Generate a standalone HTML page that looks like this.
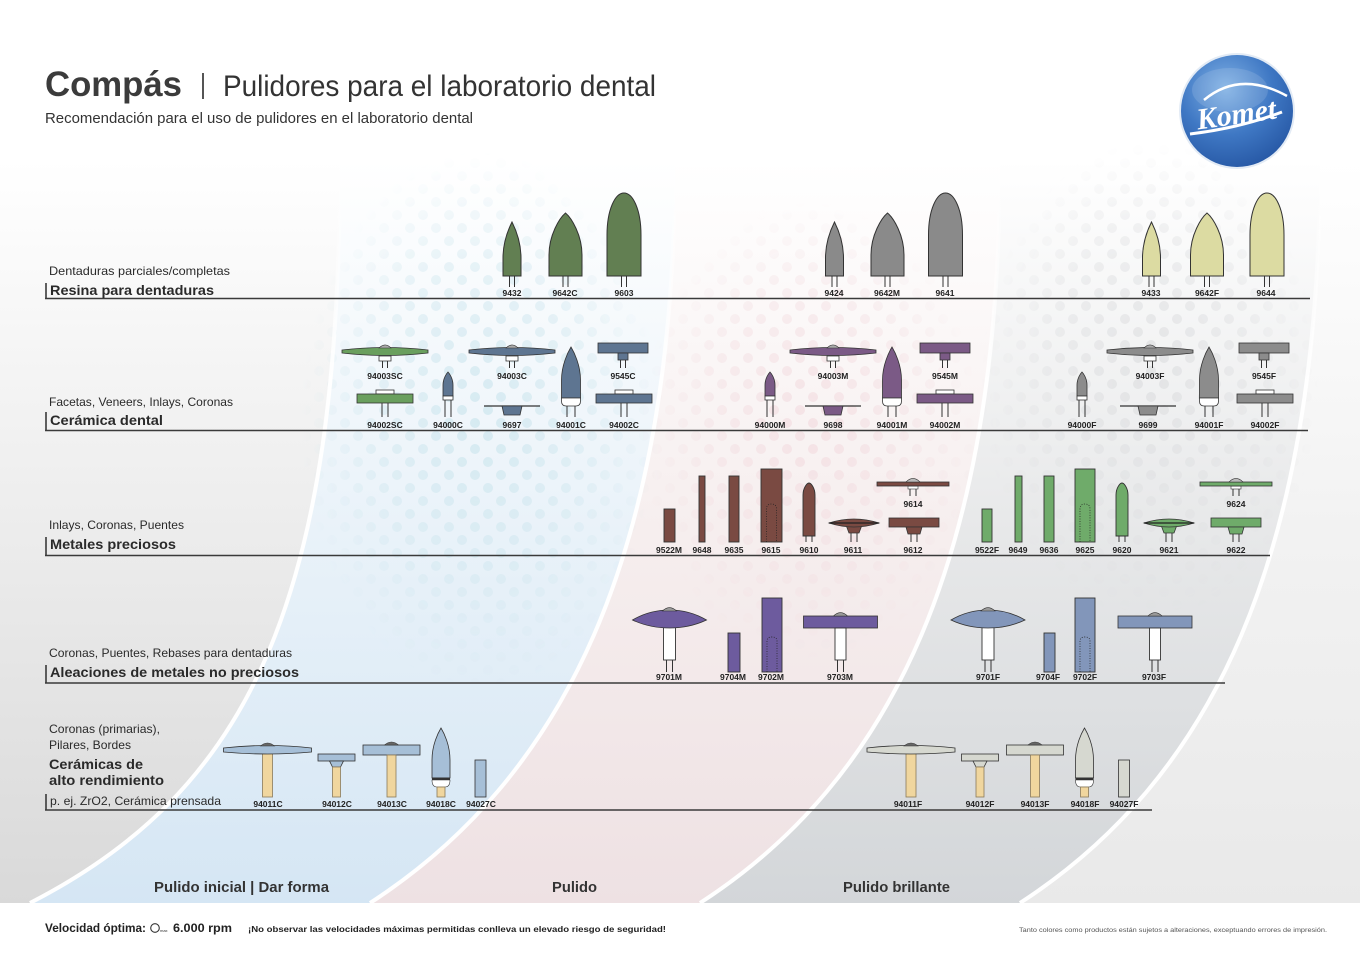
<!DOCTYPE html>
<html><head><meta charset="utf-8">
<style>
html,body{margin:0;padding:0;background:#fff;}
svg{display:block}
.lb{font-family:"Liberation Sans",sans-serif;font-weight:bold;font-size:8.5px;fill:#222;text-anchor:middle}
.t1{font-family:"Liberation Sans",sans-serif;font-size:12px;fill:#2a2a2a}
.t2{font-family:"Liberation Sans",sans-serif;font-weight:bold;font-size:14px;fill:#2a2a2a}
.bt{font-family:"Liberation Sans",sans-serif;font-weight:bold;font-size:14.5px;fill:#333}
</style></head>
<body>
<svg width="1360" height="962" viewBox="0 0 1360 962" xmlns="http://www.w3.org/2000/svg">
<defs>
  <linearGradient id="gL" gradientUnits="userSpaceOnUse" x1="0" y1="160" x2="0" y2="905">
    <stop offset="0" stop-color="#ffffff"/><stop offset="0.45" stop-color="#eeeeee"/><stop offset="1" stop-color="#d9d9d9"/>
  </linearGradient>
  <linearGradient id="gB" gradientUnits="userSpaceOnUse" x1="0" y1="160" x2="0" y2="905">
    <stop offset="0" stop-color="#ffffff"/><stop offset="0.5" stop-color="#e9f2f9"/><stop offset="1" stop-color="#d5e6f4"/>
  </linearGradient>
  <linearGradient id="gP" gradientUnits="userSpaceOnUse" x1="0" y1="160" x2="0" y2="905">
    <stop offset="0" stop-color="#ffffff"/><stop offset="0.5" stop-color="#f6eeee"/><stop offset="1" stop-color="#eee1e3"/>
  </linearGradient>
  <linearGradient id="gG" gradientUnits="userSpaceOnUse" x1="0" y1="160" x2="0" y2="905">
    <stop offset="0" stop-color="#ffffff"/><stop offset="0.5" stop-color="#e7e8e9"/><stop offset="1" stop-color="#d3d6d9"/>
  </linearGradient>
  <linearGradient id="gR" gradientUnits="userSpaceOnUse" x1="0" y1="160" x2="0" y2="905">
    <stop offset="0" stop-color="#ffffff"/><stop offset="0.5" stop-color="#f2f2f2"/><stop offset="1" stop-color="#e9e9e9"/>
  </linearGradient>
  <linearGradient id="sepF" gradientUnits="userSpaceOnUse" x1="0" y1="160" x2="0" y2="905">
    <stop offset="0" stop-color="#fff" stop-opacity="0"/><stop offset="0.3" stop-color="#fff" stop-opacity="1"/><stop offset="1" stop-color="#fff" stop-opacity="1"/>
  </linearGradient>
  <radialGradient id="fade"><stop offset="0" stop-color="#fff" stop-opacity="0.75"/><stop offset="0.6" stop-color="#fff" stop-opacity="0.4"/><stop offset="1" stop-color="#fff" stop-opacity="0"/></radialGradient>
  <pattern id="dB" width="26" height="26" patternUnits="userSpaceOnUse"><circle cx="7" cy="7" r="5" fill="#cde6ee"/><circle cx="20" cy="20" r="5" fill="#cde6ee"/></pattern>
  <pattern id="dP" width="26" height="26" patternUnits="userSpaceOnUse"><circle cx="7" cy="7" r="5" fill="#f3dde1"/><circle cx="20" cy="20" r="5" fill="#f3dde1"/></pattern>
  <pattern id="dG" width="26" height="26" patternUnits="userSpaceOnUse"><circle cx="7" cy="7" r="5" fill="#dedfe1"/><circle cx="20" cy="20" r="5" fill="#dedfe1"/></pattern>
  <mask id="mB"><ellipse cx="480" cy="420" rx="180" ry="270" fill="url(#fade)"/></mask>
  <mask id="mP"><ellipse cx="810" cy="430" rx="170" ry="230" fill="url(#fade)"/></mask>
  <mask id="mG"><ellipse cx="1150" cy="380" rx="170" ry="240" fill="url(#fade)"/></mask>
  <radialGradient id="logoG" cx="0.4" cy="0.3" r="0.75">
    <stop offset="0" stop-color="#7fb0e4"/><stop offset="0.55" stop-color="#3f78c4"/><stop offset="1" stop-color="#2657a4"/>
  </radialGradient>

  <g id="p1"><path d="M-9,276 L-9,258 C-9,240 -2,226 0,222 C2,226 9,240 9,258 L9,276 Z" stroke="#333" stroke-width="1"/><path d="M-2.5,276V287M2.5,276V287" stroke="#333" fill="none"/></g>
  <g id="p2"><path d="M-16.5,276 L-16.5,255 C-16.5,235 -6,218 0,213 C6,218 16.5,235 16.5,255 L16.5,276 Z" stroke="#333" stroke-width="1"/><path d="M-2.5,276V287M2.5,276V287" stroke="#333" fill="none"/></g>
  <g id="p3"><path d="M-17,276 L-17,235 C-17,210 -9,193 0,193 C9,193 17,210 17,235 L17,276 Z" stroke="#333" stroke-width="1"/><path d="M-2.5,276V287M2.5,276V287" stroke="#333" fill="none"/></g>

  <g id="d2"><path d="M-6,356 h12 v5 h-12 Z" fill="#fff" stroke="#333" stroke-width=".8"/><path d="M-43,350 Q0,345 43,350 L43,353 Q0,358 -43,353 Z" stroke="#333" stroke-width=".8"/><path d="M-6,348 Q0,342 6,348 Z" fill="#aaa" stroke="#333" stroke-width=".6"/><path d="M-2.5,361V368M2.5,361V368" stroke="#333" fill="none"/></g>
  <g id="s2"><rect x="-25" y="343" width="50" height="10" stroke="#333" stroke-width=".8"/><rect x="-5" y="353" width="10" height="7" stroke="#333" stroke-width=".8"/><path d="M-2.5,360V368M2.5,360V368" stroke="#333" fill="none"/></g>
  <g id="w2"><rect x="-9" y="390" width="18" height="4" fill="#fff" stroke="#333" stroke-width=".8"/><rect x="-28" y="394" width="56" height="9" stroke="#333" stroke-width=".8"/><path d="M-3,403V417M3,403V417" stroke="#333" fill="none"/></g>
  <g id="sf2"><path d="M-5,396 L-5,385 C-5,378 -1,373 0,372 C1,373 5,378 5,385 L5,396 Z" stroke="#333" stroke-width=".8"/><rect x="-5" y="396" width="10" height="4" fill="#fff" stroke="#333" stroke-width=".8"/><path d="M-3,400V417M3,400V417" stroke="#333" fill="none"/></g>
  <g id="c2"><path d="M-28,406H28" stroke="#333" stroke-width="1.3"/><path d="M-10,406 L10,406 L8,415 L-8,415 Z" stroke="#333" stroke-width=".8"/></g>
  <g id="bf2"><path d="M-9.5,398 L-9.5,380 C-9.5,365 -3,352 0,347 C3,352 9.5,365 9.5,380 L9.5,398 Z" stroke="#333" stroke-width=".8"/><path d="M-9.5,398 L9.5,398 L9.5,401 Q9.5,406 5,406 L-5,406 Q-9.5,406 -9.5,401 Z" fill="#fff" stroke="#333" stroke-width=".8"/><path d="M-4,406V417M4,406V417" stroke="#333" fill="none"/></g>

  <g id="b3"><path d="M-6,536 L-6,495 C-6,488 -2,483 0,483 C2,483 6,488 6,495 L6,536 Z" stroke="#333" stroke-width=".9"/><path d="M-3,536V542M3,536V542" stroke="#333" fill="none"/></g>
  <g id="l3"><path d="M-8,525 L8,525 L5,533 L-5,533 Z" stroke="#333" stroke-width=".8"/><path d="M-25,523 Q0,515 25,523 Q0,531 -25,523 Z" stroke="#333" stroke-width=".8"/><path d="M-25,523H25" stroke="#222" stroke-width="1.2"/><path d="M-3,533V542M3,533V542" stroke="#333" fill="none"/></g>
  <g id="t3"><rect x="-5" y="486" width="10" height="3" fill="#fff" stroke="#333" stroke-width=".6"/><rect x="-36" y="482" width="72" height="4" stroke="#333" stroke-width=".8"/><path d="M-7,482 Q0,475 7,482 Z" fill="#bbb" stroke="#333" stroke-width=".6"/><path d="M-3,489V496M3,489V496" stroke="#333" fill="none"/></g>
  <g id="w3"><rect x="-25" y="518" width="50" height="9" stroke="#333" stroke-width=".8"/><path d="M-8,527 L8,527 L6,534 L-6,534 Z" stroke="#333" stroke-width=".8"/><path d="M-3,534V542M3,534V542" stroke="#333" fill="none"/></g>

  <g id="l4"><rect x="-6" y="626" width="12" height="34" fill="#fff" stroke="#333" stroke-width=".9"/><path d="M-37,620 Q-20,610 0,610 Q20,610 37,620 Q20,628 0,628 Q-20,628 -37,620 Z" stroke="#333" stroke-width=".8"/><path d="M-7,611 Q0,604 7,611 Z" fill="#999" stroke="#333" stroke-width=".6"/><path d="M-3,660V672M3,660V672" stroke="#333" fill="none"/></g>
  <g id="r4"><rect x="-37" y="616" width="74" height="12" stroke="#333" stroke-width=".8"/><path d="M-7,616 Q0,609 7,616 Z" fill="#999" stroke="#333" stroke-width=".6"/><rect x="-5.5" y="628" width="11" height="32" fill="#fff" stroke="#333" stroke-width=".9"/><path d="M-3,660V672M3,660V672" stroke="#333" fill="none"/></g>

  <g id="d5"><rect x="-5" y="753" width="10" height="44" fill="#f0d69e" stroke="#8a7a5a" stroke-width=".8"/><path d="M-44,748 Q0,743 44,748 L44,752 Q0,756 -44,752 Z" stroke="#333" stroke-width=".8"/><path d="M-7,746 Q0,740 7,746 Z" fill="#666" stroke="#333" stroke-width=".6"/></g>
  <g id="t5"><rect x="-18.5" y="754" width="37" height="7" stroke="#333" stroke-width=".8"/><path d="M-7,761 L7,761 L4,767 L-4,767 Z" stroke="#333" stroke-width=".8"/><rect x="-4" y="767" width="8" height="30" fill="#f0d69e" stroke="#8a7a5a" stroke-width=".8"/></g>
  <g id="r5"><rect x="-28.5" y="745" width="57" height="10" stroke="#333" stroke-width=".8"/><path d="M-7,745 Q0,739 7,745 Z" fill="#666" stroke="#333" stroke-width=".6"/><rect x="-4.5" y="755" width="9" height="42" fill="#f0d69e" stroke="#8a7a5a" stroke-width=".8"/></g>
  <g id="f5"><path d="M-9,778 L-9,760 C-9,745 -3,733 0,728 C3,733 9,745 9,760 L9,778 Z" stroke="#333" stroke-width=".8"/><rect x="-9" y="777.5" width="18" height="2.5" fill="#333"/><path d="M-9,780 L9,780 Q9,787 4,787 L-4,787 Q-9,787 -9,780 Z" fill="#fff" stroke="#333" stroke-width=".6"/><rect x="-4" y="787" width="8" height="10" fill="#f0d69e" stroke="#8a7a5a" stroke-width=".8"/></g>
  <g id="b5"><rect x="-5.5" y="760" width="11" height="37" stroke="#333" stroke-width=".8"/></g>
</defs>

<rect x="0" y="0" width="1360" height="962" fill="#fff"/>

<path d="M0,160 L340,160 C340,600 250,790 30,903 L0,903 Z" fill="url(#gL)"/>
<path d="M340,160 L675,160 C675,560 560,780 370,903 L30,903 C250,790 340,600 340,160 Z" fill="url(#gB)"/>
<path d="M675,160 L1000,160 C1000,560 890,780 700,903 L370,903 C560,780 675,560 675,160 Z" fill="url(#gP)"/>
<path d="M1000,160 L1320,160 C1320,560 1210,780 1020,903 L700,903 C890,780 1000,560 1000,160 Z" fill="url(#gG)"/>
<path d="M1320,160 L1360,160 L1360,903 L1020,903 C1210,780 1320,560 1320,160 Z" fill="url(#gR)"/>

<rect x="300" y="150" width="380" height="560" fill="url(#dB)" mask="url(#mB)"/>
<rect x="640" y="190" width="360" height="480" fill="url(#dP)" mask="url(#mP)"/>
<rect x="980" y="140" width="340" height="480" fill="url(#dG)" mask="url(#mG)"/>

<g fill="none" stroke="url(#sepF)" stroke-width="4">
  <path d="M340,160 C340,600 250,790 30,903"/>
  <path d="M675,160 C675,560 560,780 370,903"/>
  <path d="M1000,160 C1000,560 890,780 700,903"/>
  <path d="M1320,160 C1320,560 1210,780 1020,903"/>
</g>

<text x="45" y="96" font-family="Liberation Sans, sans-serif" font-weight="bold" font-size="35" fill="#3b3b3b" textLength="137" lengthAdjust="spacingAndGlyphs">Compás</text>
<line x1="203" y1="73" x2="203" y2="99" stroke="#555" stroke-width="2"/>
<text x="223" y="96" font-family="Liberation Sans, sans-serif" font-size="30" fill="#333" textLength="433" lengthAdjust="spacingAndGlyphs">Pulidores para el laboratorio dental</text>
<text x="45" y="123" font-family="Liberation Sans, sans-serif" font-size="14.5" fill="#333" textLength="428" lengthAdjust="spacingAndGlyphs">Recomendación para el uso de pulidores en el laboratorio dental</text>

<circle cx="1237" cy="111" r="58" fill="#e3ebf5"/>
<circle cx="1237" cy="111" r="56" fill="url(#logoG)"/>
<ellipse cx="1230" cy="90" rx="38" ry="22" fill="#ffffff" opacity="0.12"/>
<path d="M1204,100 Q1240,70 1287,96" fill="none" stroke="#fff" stroke-width="2.5"/>
<path d="M1190,134 Q1240,128 1282,112" fill="none" stroke="#fff" stroke-width="3"/>
<text x="1236" y="124" text-anchor="middle" font-family="Liberation Serif, serif" font-style="italic" font-weight="bold" font-size="30" fill="#fff" transform="rotate(-8 1236 112)">Komet</text>

<g stroke="#3a3a3a" stroke-width="1.6">
  <line x1="45" y1="298.5" x2="1310" y2="298.5"/>
  <line x1="45" y1="430.5" x2="1308" y2="430.5"/>
  <line x1="45" y1="555.5" x2="1270" y2="555.5"/>
  <line x1="45" y1="683" x2="1225" y2="683"/>
  <line x1="45" y1="810" x2="1152" y2="810"/>
  <line x1="46" y1="283" x2="46" y2="298"/>
  <line x1="46" y1="412" x2="46" y2="430"/>
  <line x1="46" y1="537" x2="46" y2="555"/>
  <line x1="46" y1="665" x2="46" y2="683"/>
  <line x1="46" y1="794" x2="46" y2="810"/>
</g>

<text x="49" y="275" class="t1" textLength="181" lengthAdjust="spacingAndGlyphs">Dentaduras parciales/completas</text>
<text x="50" y="295" class="t2" textLength="164" lengthAdjust="spacingAndGlyphs">Resina para dentaduras</text>
<text x="49" y="406" class="t1" textLength="184" lengthAdjust="spacingAndGlyphs">Facetas, Veneers, Inlays, Coronas</text>
<text x="50" y="425" class="t2" textLength="113" lengthAdjust="spacingAndGlyphs">Cerámica dental</text>
<text x="49" y="529" class="t1" textLength="135" lengthAdjust="spacingAndGlyphs">Inlays, Coronas, Puentes</text>
<text x="50" y="549" class="t2" textLength="126" lengthAdjust="spacingAndGlyphs">Metales preciosos</text>
<text x="49" y="657" class="t1" textLength="243" lengthAdjust="spacingAndGlyphs">Coronas, Puentes, Rebases para dentaduras</text>
<text x="50" y="677" class="t2" textLength="249" lengthAdjust="spacingAndGlyphs">Aleaciones de metales no preciosos</text>
<text x="49" y="733" class="t1" textLength="111" lengthAdjust="spacingAndGlyphs">Coronas (primarias),</text>
<text x="49" y="749" class="t1" textLength="82" lengthAdjust="spacingAndGlyphs">Pilares, Bordes</text>
<text x="49" y="769" class="t2" textLength="94" lengthAdjust="spacingAndGlyphs">Cerámicas de</text>
<text x="49" y="785" class="t2" textLength="115" lengthAdjust="spacingAndGlyphs">alto rendimiento</text>
<text x="50" y="805" class="t1" textLength="171" lengthAdjust="spacingAndGlyphs">p. ej. ZrO2, Cerámica prensada</text>

<use href="#p1" x="512" fill="#627f52"/>
<use href="#p2" x="565.5" fill="#627f52"/>
<use href="#p3" x="624" fill="#627f52"/>
<use href="#p1" x="834.5" fill="#8a8a8a"/>
<use href="#p2" x="887.5" fill="#8a8a8a"/>
<use href="#p3" x="945.5" fill="#8a8a8a"/>
<use href="#p1" x="1151.5" fill="#dcdba2"/>
<use href="#p2" x="1207" fill="#dcdba2"/>
<use href="#p3" x="1267" fill="#dcdba2"/>
<g class="lb">
  <text x="512" y="296">9432</text><text x="565" y="296">9642C</text><text x="624" y="296">9603</text>
  <text x="834" y="296">9424</text><text x="887" y="296">9642M</text><text x="945" y="296">9641</text>
  <text x="1151" y="296">9433</text><text x="1207" y="296">9642F</text><text x="1266" y="296">9644</text>
</g>

<use href="#d2" x="385" fill="#6a9f5e"/>
<use href="#w2" x="385" fill="#6a9f5e"/>
<use href="#sf2" x="448" fill="#5e7591"/>
<use href="#d2" x="512" fill="#5e7591"/>
<use href="#c2" x="512" fill="#5e7591"/>
<use href="#bf2" x="571" fill="#5e7591"/>
<use href="#s2" x="623" fill="#5e7591"/>
<use href="#w2" x="624" fill="#5e7591"/>

<use href="#sf2" x="770" fill="#7b5a86"/>
<use href="#d2" x="833" fill="#7b5a86"/>
<use href="#c2" x="833" fill="#7b5a86"/>
<use href="#bf2" x="892" fill="#7b5a86"/>
<use href="#s2" x="945" fill="#7b5a86"/>
<use href="#w2" x="945" fill="#7b5a86"/>

<use href="#sf2" x="1082" fill="#8c8c8c"/>
<use href="#d2" x="1150" fill="#8c8c8c"/>
<use href="#c2" x="1148" fill="#8c8c8c"/>
<use href="#bf2" x="1209" fill="#8c8c8c"/>
<use href="#s2" x="1264" fill="#8c8c8c"/>
<use href="#w2" x="1265" fill="#8c8c8c"/>
<g class="lb">
  <text x="385" y="379">94003SC</text><text x="512" y="379">94003C</text><text x="623" y="379">9545C</text>
  <text x="833" y="379">94003M</text><text x="945" y="379">9545M</text>
  <text x="1150" y="379">94003F</text><text x="1264" y="379">9545F</text>
  <text x="385" y="428">94002SC</text><text x="448" y="428">94000C</text><text x="512" y="428">9697</text><text x="571" y="428">94001C</text><text x="624" y="428">94002C</text>
  <text x="770" y="428">94000M</text><text x="833" y="428">9698</text><text x="892" y="428">94001M</text><text x="945" y="428">94002M</text>
  <text x="1082" y="428">94000F</text><text x="1148" y="428">9699</text><text x="1209" y="428">94001F</text><text x="1265" y="428">94002F</text>
</g>

<g stroke="#333" stroke-width=".9" fill="#7a4a42">
  <rect x="664" y="509" width="11" height="33"/>
  <rect x="699" y="476" width="6" height="66"/>
  <rect x="729" y="476" width="10" height="66"/>
  <rect x="761" y="469" width="21" height="73"/>
</g>
<path d="M766.5,542 V509 Q766.5,504 771.5,504 Q776.5,504 776.5,509 V542" fill="none" stroke="#222" stroke-width=".7" stroke-dasharray="1,1.5"/>
<use href="#b3" x="809" fill="#7a4a42"/>
<use href="#l3" x="854" fill="#7a4a42"/>
<use href="#t3" x="913" fill="#7a4a42"/>
<use href="#w3" x="914" fill="#7a4a42"/>

<g stroke="#333" stroke-width=".9" fill="#6fab6a">
  <rect x="982" y="509" width="10" height="33"/>
  <rect x="1015" y="476" width="7" height="66"/>
  <rect x="1044" y="476" width="10" height="66"/>
  <rect x="1075" y="469" width="20" height="73"/>
</g>
<path d="M1080,542 V509 Q1080,504 1085,504 Q1090,504 1090,509 V542" fill="none" stroke="#222" stroke-width=".7" stroke-dasharray="1,1.5"/>
<use href="#b3" x="1122" fill="#6fab6a"/>
<use href="#l3" x="1169" fill="#6fab6a"/>
<use href="#t3" x="1236" fill="#6fab6a"/>
<use href="#w3" x="1236" fill="#6fab6a"/>
<g class="lb">
  <text x="913" y="507">9614</text><text x="1236" y="507">9624</text>
  <text x="669" y="553">9522M</text><text x="702" y="553">9648</text><text x="734" y="553">9635</text><text x="771" y="553">9615</text><text x="809" y="553">9610</text><text x="853" y="553">9611</text><text x="913" y="553">9612</text>
  <text x="987" y="553">9522F</text><text x="1018" y="553">9649</text><text x="1049" y="553">9636</text><text x="1085" y="553">9625</text><text x="1122" y="553">9620</text><text x="1169" y="553">9621</text><text x="1236" y="553">9622</text>
</g>

<use href="#l4" x="669.5" fill="#6d5b9e"/>
<g stroke="#333" stroke-width=".9" fill="#6d5b9e">
  <rect x="728" y="633" width="12" height="39"/>
  <rect x="762" y="598" width="20" height="74"/>
</g>
<path d="M767,672 V641 Q767,637 772,637 Q777,637 777,641 V672" fill="none" stroke="#222" stroke-width=".7" stroke-dasharray="1,1.5"/>
<use href="#r4" x="840.5" fill="#6d5b9e"/>

<use href="#l4" x="988" fill="#8296ba"/>
<g stroke="#333" stroke-width=".9" fill="#8296ba">
  <rect x="1044" y="633" width="11" height="39"/>
  <rect x="1075" y="598" width="20" height="74"/>
</g>
<path d="M1080,672 V641 Q1080,637 1085,637 Q1090,637 1090,641 V672" fill="none" stroke="#222" stroke-width=".7" stroke-dasharray="1,1.5"/>
<use href="#r4" x="1155" fill="#8296ba"/>
<g class="lb">
  <text x="669" y="680">9701M</text><text x="733" y="680">9704M</text><text x="771" y="680">9702M</text><text x="840" y="680">9703M</text>
  <text x="988" y="680">9701F</text><text x="1048" y="680">9704F</text><text x="1085" y="680">9702F</text><text x="1154" y="680">9703F</text>
</g>

<use href="#d5" x="267.5" fill="#a6bfd7"/>
<use href="#t5" x="336.5" fill="#a6bfd7"/>
<use href="#r5" x="391.5" fill="#a6bfd7"/>
<use href="#f5" x="441" fill="#a6bfd7"/>
<use href="#b5" x="480.5" fill="#a6bfd7"/>
<use href="#d5" x="911" fill="#d6d8d0"/>
<use href="#t5" x="980" fill="#d6d8d0"/>
<use href="#r5" x="1035" fill="#d6d8d0"/>
<use href="#f5" x="1084.5" fill="#d6d8d0"/>
<use href="#b5" x="1124" fill="#d6d8d0"/>
<g class="lb">
  <text x="268" y="807">94011C</text><text x="337" y="807">94012C</text><text x="392" y="807">94013C</text><text x="441" y="807">94018C</text><text x="481" y="807">94027C</text>
  <text x="908" y="807">94011F</text><text x="980" y="807">94012F</text><text x="1035" y="807">94013F</text><text x="1085" y="807">94018F</text><text x="1124" y="807">94027F</text>
</g>

<text x="154" y="892" class="bt" textLength="175" lengthAdjust="spacingAndGlyphs">Pulido inicial | Dar forma</text>
<text x="552" y="892" class="bt" textLength="45" lengthAdjust="spacingAndGlyphs">Pulido</text>
<text x="843" y="892" class="bt" textLength="107" lengthAdjust="spacingAndGlyphs">Pulido brillante</text>

<text x="45" y="932" font-family="Liberation Sans, sans-serif" font-weight="bold" font-size="11.5" fill="#222" textLength="101" lengthAdjust="spacingAndGlyphs">Velocidad óptima:</text>
<circle cx="155" cy="928" r="4.3" fill="none" stroke="#333" stroke-width="1.1"/>
<text x="160" y="932" font-family="Liberation Sans, sans-serif" font-size="4" fill="#333">max</text>
<text x="173" y="932" font-family="Liberation Sans, sans-serif" font-weight="bold" font-size="11.5" fill="#222" textLength="59" lengthAdjust="spacingAndGlyphs">6.000 rpm</text>
<text x="248" y="932" font-family="Liberation Sans, sans-serif" font-weight="bold" font-size="8" fill="#222" textLength="418" lengthAdjust="spacingAndGlyphs">¡No observar las velocidades máximas permitidas conlleva un elevado riesgo de seguridad!</text>
<text x="1019" y="932" font-family="Liberation Sans, sans-serif" font-size="6.5" fill="#555" textLength="308" lengthAdjust="spacingAndGlyphs">Tanto colores como productos están sujetos a alteraciones, exceptuando errores de impresión.</text>
</svg>
</body></html>
